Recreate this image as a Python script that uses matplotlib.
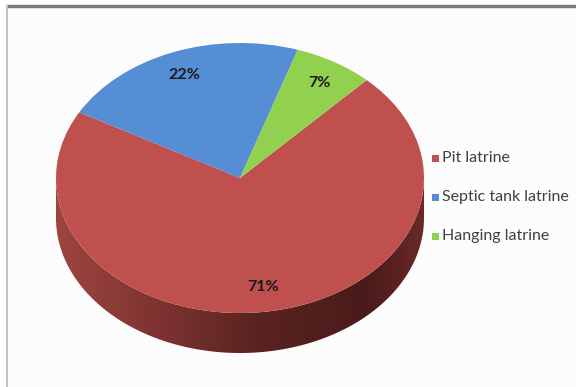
import numpy as np
import matplotlib
matplotlib.use("Agg")
import matplotlib.pyplot as plt
from matplotlib.patches import Wedge, Polygon, Rectangle
from matplotlib.transforms import Affine2D
from matplotlib.colors import LinearSegmentedColormap

# Sanitation facility shares
categories = ["Pit latrine", "Septic tank latrine", "Hanging latrine"]
shares = [71, 22, 7]
colors = ["#C0504D", "#558ED5", "#92D050"]

W, H = 576, 387
fig = plt.figure(figsize=(W / 100, H / 100), dpi=100)
ax = fig.add_axes([0, 0, 1, 1])
ax.set_xlim(0, W)
ax.set_ylim(0, H)
ax.axis("off")

# chart area frame
ax.add_patch(Rectangle((7, 0), W - 7, H - 6, facecolor="#FCFCFC", edgecolor="none"))
ax.plot([6, W], [H - 5.5, H - 5.5], color="#7A7A7A", lw=2.5, solid_capstyle="butt")
ax.plot([6.5, 6.5], [0, H - 5], color="#C4C4C4", lw=1.5, solid_capstyle="butt")

# pie geometry (pixels, y measured from bottom)
cx, cy = 240, H - 178
rx, ry = 184, 135
depth = 40
start = 46.5  # first slice begins here and runs clockwise

ell = Affine2D().scale(rx, ry).translate(cx, cy) + ax.transData

# side wall (only the front half is visible, all of it red)
t = np.linspace(np.pi, 2 * np.pi, 200)
top_edge = np.column_stack([cx + rx * np.cos(t), cy + ry * np.sin(t)])
bot_edge = top_edge[::-1] - [0, depth]
side = Polygon(np.vstack([top_edge, bot_edge]), closed=True,
               facecolor="none", edgecolor="none")
ax.add_patch(side)
side_cmap = LinearSegmentedColormap.from_list(
    "side", [(0.0, "#9E4540"), (0.25, "#813533"), (0.55, "#59231F"),
             (0.85, "#4A1B1B"), (1.0, "#6A2927")])
grad = np.linspace(0, 1, 256).reshape(1, -1)
img = ax.imshow(grad, cmap=side_cmap, aspect="auto",
                extent=[cx - rx, cx + rx, cy - ry - depth, cy], zorder=2)
img.set_clip_path(side)

# top face
angle = start
mids = []
for val, col in zip(shares, colors):
    sweep = 360 * val / sum(shares)
    w = Wedge((0, 0), 1, angle - sweep, angle, facecolor=col,
              edgecolor="none", transform=ell, zorder=3)
    ax.add_patch(w)
    mids.append(np.deg2rad(angle - sweep / 2))
    angle -= sweep

# data labels
for val, m in zip(shares, mids):
    lx = cx + 0.84 * rx * np.cos(m)
    ly = cy + 0.82 * ry * np.sin(m)
    ax.text(lx, ly, f"{val}%", ha="center", va="center", fontsize=11.5,
            fontweight="bold", color="#1A1A1A", zorder=4,
            family=["Lato", "DejaVu Sans"])

# legend
for i, (name, col) in enumerate(zip(categories, colors)):
    yy = H - 158 - i * 39
    ax.add_patch(Rectangle((432, yy - 3.5), 7, 7, facecolor=col,
                           edgecolor="none", zorder=4))
    ax.text(442, yy, name, ha="left", va="center", fontsize=11.5,
            color="#404040", zorder=4, family=["Lato", "DejaVu Sans"])

fig.savefig("out.png", dpi=100, facecolor="white")
